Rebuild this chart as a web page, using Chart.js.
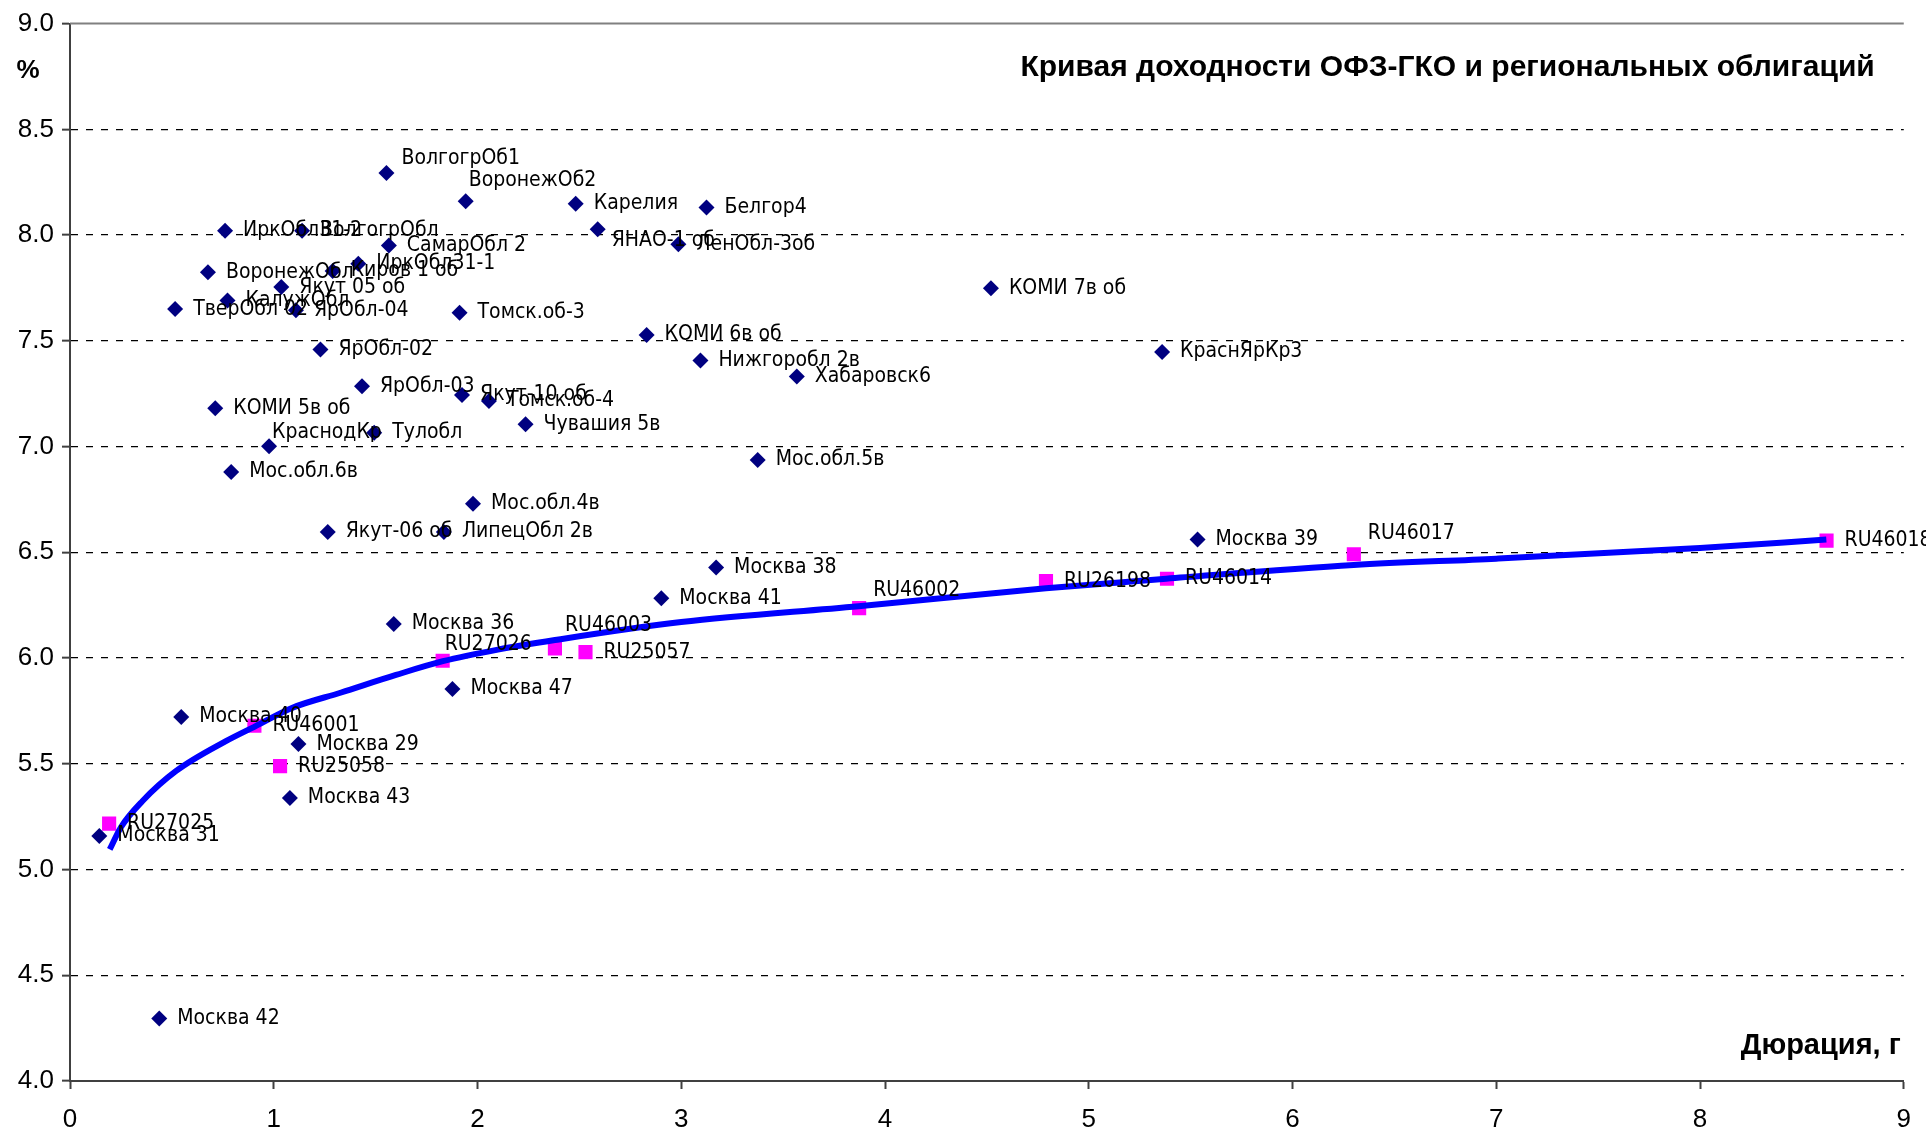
<!DOCTYPE html>
<html><head><meta charset="utf-8">
<script src="https://cdn.jsdelivr.net/npm/chart.js@4.4.0/dist/chart.umd.min.js"></script>
<style>html,body{margin:0;padding:0;background:#fff;} #wrap{width:1926px;height:1130px;}</style>
</head><body><div id="wrap"><canvas id="c" width="1926" height="1130"></canvas></div>
<script>
// ---- data ----
const regionalNames = ["ВолгогрОб1","ВоронежОб2","Карелия","Белгор4","ЯНАО-1 об","ЛенОбл-3об","ИркОбл31-2","ВолгогрОбл","СамарОбл 2","ИркОбл31-1","ВоронежОбл","Киров 1 об","Якут 05 об","КалужОбл","ТверОбл 02","ЯрОбл-04","Томск.об-3","КОМИ 7в об","КОМИ 6в об","КраснЯрКр3","ЯрОбл-02","Нижгоробл 2в","Хабаровск6","ЯрОбл-03","Якут-10 об","Томск.об-4","КОМИ 5в об","Чувашия 5в","Тулобл","КраснодКр","Мос.обл.5в","Мос.обл.6в","Мос.обл.4в","Якут-06 об","ЛипецОбл 2в","Москва 39","Москва 38","Москва 41","Москва 36","Москва 47","Москва 40","Москва 29","Москва 43","Москва 31","Москва 42"];
const regionalDur = [1.553,1.942,2.482,3.124,2.590,2.986,0.761,1.139,1.565,1.415,0.677,1.289,1.037,0.773,0.516,1.109,1.912,4.520,2.830,5.360,1.229,3.094,3.567,1.433,1.924,2.056,0.713,2.236,1.493,0.977,3.375,0.791,1.978,1.265,1.835,5.534,3.171,2.902,1.589,1.877,0.546,1.121,1.079,0.144,0.438];
const regionalYield = [8.293,8.160,8.148,8.131,8.027,7.957,8.021,8.021,7.951,7.864,7.824,7.830,7.754,7.691,7.650,7.644,7.633,7.749,7.528,7.447,7.459,7.407,7.331,7.285,7.244,7.216,7.181,7.105,7.065,7.001,6.937,6.880,6.729,6.596,6.596,6.561,6.428,6.283,6.161,5.854,5.721,5.593,5.338,5.159,4.295];
const ofzNames = ["RU27025","RU46001","RU25058","RU27026","RU46003","RU25057","RU46002","RU26198","RU46014","RU46017","RU46018"];
const ofzDur = [0.192,0.905,1.031,1.829,2.380,2.530,3.873,4.790,5.384,6.301,8.621];
const ofzYield = [5.217,5.680,5.489,5.987,6.045,6.028,6.236,6.364,6.375,6.491,6.555];
const curveDur = [0.195,0.25,0.356,0.521,0.765,0.911,1.089,1.331,1.6,1.83,2.1,2.38,3.0,3.87,4.79,5.38,6.3,7.0,8.0,8.62];
const curveYield = [5.095,5.20,5.324,5.466,5.607,5.678,5.764,5.837,5.92,5.985,6.04,6.085,6.17,6.245,6.33,6.375,6.44,6.47,6.52,6.56];
const yTickValues = [4.0,4.5,5.0,5.5,6.0,6.5,7.0,7.5,8.0,8.5,9.0];
const xTickValues = [0,1,2,3,4,5,6,7,8,9];
const titleText = "Кривая доходности ОФЗ-ГКО и региональных облигаций";
const yUnit = "%";
const xUnit = "Дюрация, г";

// label placement (offsets from marker, px)
const labelOffsets = {
  "ВолгогрОб1":[15,-15], "ВоронежОб2":[3,-21], "КраснодКр":[3,-14],
  "RU27026":[2,-16], "RU46003":[10,-23], "RU46017":[14,-21], "RU46002":[14,-18],
  "ЯНАО-1 об":[14,11]
};
const defaultOffset = [18,0];

const pts = (xs, ys) => xs.map((x,i)=>({x:x, y:ys[i]}));

const labelPlugin = {
  id:'pointLabels',
  afterDatasetsDraw(chart){
    const ctx = chart.ctx;
    ctx.save();
    ctx.font = '21px "DejaVu Sans Condensed", "DejaVu Sans"';
    ctx.fillStyle = '#000';
    ctx.textAlign = 'left';
    ctx.textBaseline = 'middle';
    [[1,regionalNames],[2,ofzNames]].forEach(([di,names])=>{
      const meta = chart.getDatasetMeta(di);
      meta.data.forEach((el,i)=>{
        const off = labelOffsets[names[i]] || defaultOffset;
        ctx.fillText(names[i], el.x+off[0], el.y+off[1]);
      });
    });
    ctx.restore();
  }
};
const textPlugin = {
  id:'texts',
  afterDraw(chart){
    const ctx = chart.ctx, a = chart.chartArea;
    ctx.save();
    ctx.fillStyle = '#000';
    ctx.textBaseline = 'middle';
    ctx.font = 'bold 30px "Liberation Sans"';
    ctx.textAlign = 'right';
    ctx.fillText(titleText, a.right-29, 68);
    ctx.font = 'bold 29px "Liberation Sans"';
    ctx.fillText(xUnit, a.right-3, a.bottom-35);
    ctx.textAlign = 'center';
    ctx.font = 'bold 26px "Liberation Sans"';
    ctx.fillText(yUnit, 28, 71);
    // top border
    ctx.strokeStyle = '#808080'; ctx.lineWidth = 2;
    ctx.beginPath(); ctx.moveTo(a.left, a.top); ctx.lineTo(a.right, a.top); ctx.stroke();
    ctx.restore();
  }
};

new Chart(document.getElementById('c'), {
  type:'scatter',
  data:{datasets:[
    {type:'line', label:'curve', data:pts(curveDur,curveYield), borderColor:'#0000FF', borderWidth:6, pointRadius:0, cubicInterpolationMode:'monotone', fill:false},
    {label:'regional', data:pts(regionalDur,regionalYield), pointStyle:'rectRot', pointRadius:8, backgroundColor:'#000080', borderWidth:0},
    {label:'ofz', data:pts(ofzDur,ofzYield), pointStyle:'rect', pointRadius:10, backgroundColor:'#FF00FF', borderWidth:0}
  ]},
  options:{
    responsive:false, devicePixelRatio:1, animation:false,
    layout:{padding:{left:0,top:21,right:13,bottom:0}},
    plugins:{legend:{display:false}, tooltip:{enabled:false}},
    scales:{
      x:{type:'linear', min:0, max:9,
        afterFit(s){ s.height = 49; },
        afterBuildTicks(s){ s.ticks = xTickValues.map(v=>({value:v})); },
        ticks:{font:{family:'Liberation Sans', size:26}, color:'#000', padding:15, callback:v=>String(v), maxRotation:0},
        grid:{drawOnChartArea:false, drawTicks:true, tickLength:8, tickColor:'#404040', tickWidth:2},
        border:{color:'#404040', width:2}
      },
      y:{type:'linear', min:4, max:9,
        afterFit(s){ s.width = 70; },
        afterBuildTicks(s){ s.ticks = yTickValues.map(v=>({value:v})); },
        ticks:{font:{family:'Liberation Sans', size:26}, color:'#000', padding:8, callback:v=>Number(v).toFixed(1)},
        grid:{color:c=> (c.tick && (c.tick.value===9 || c.tick.value===4)) ? 'rgba(0,0,0,0)' : '#000', lineWidth:1.3, tickLength:8, tickColor:'#404040', tickWidth:2},
        border:{color:'#404040', width:2, dash:[7,8]}
      }
    }
  },
  plugins:[labelPlugin, textPlugin]
});
</script></body></html>
